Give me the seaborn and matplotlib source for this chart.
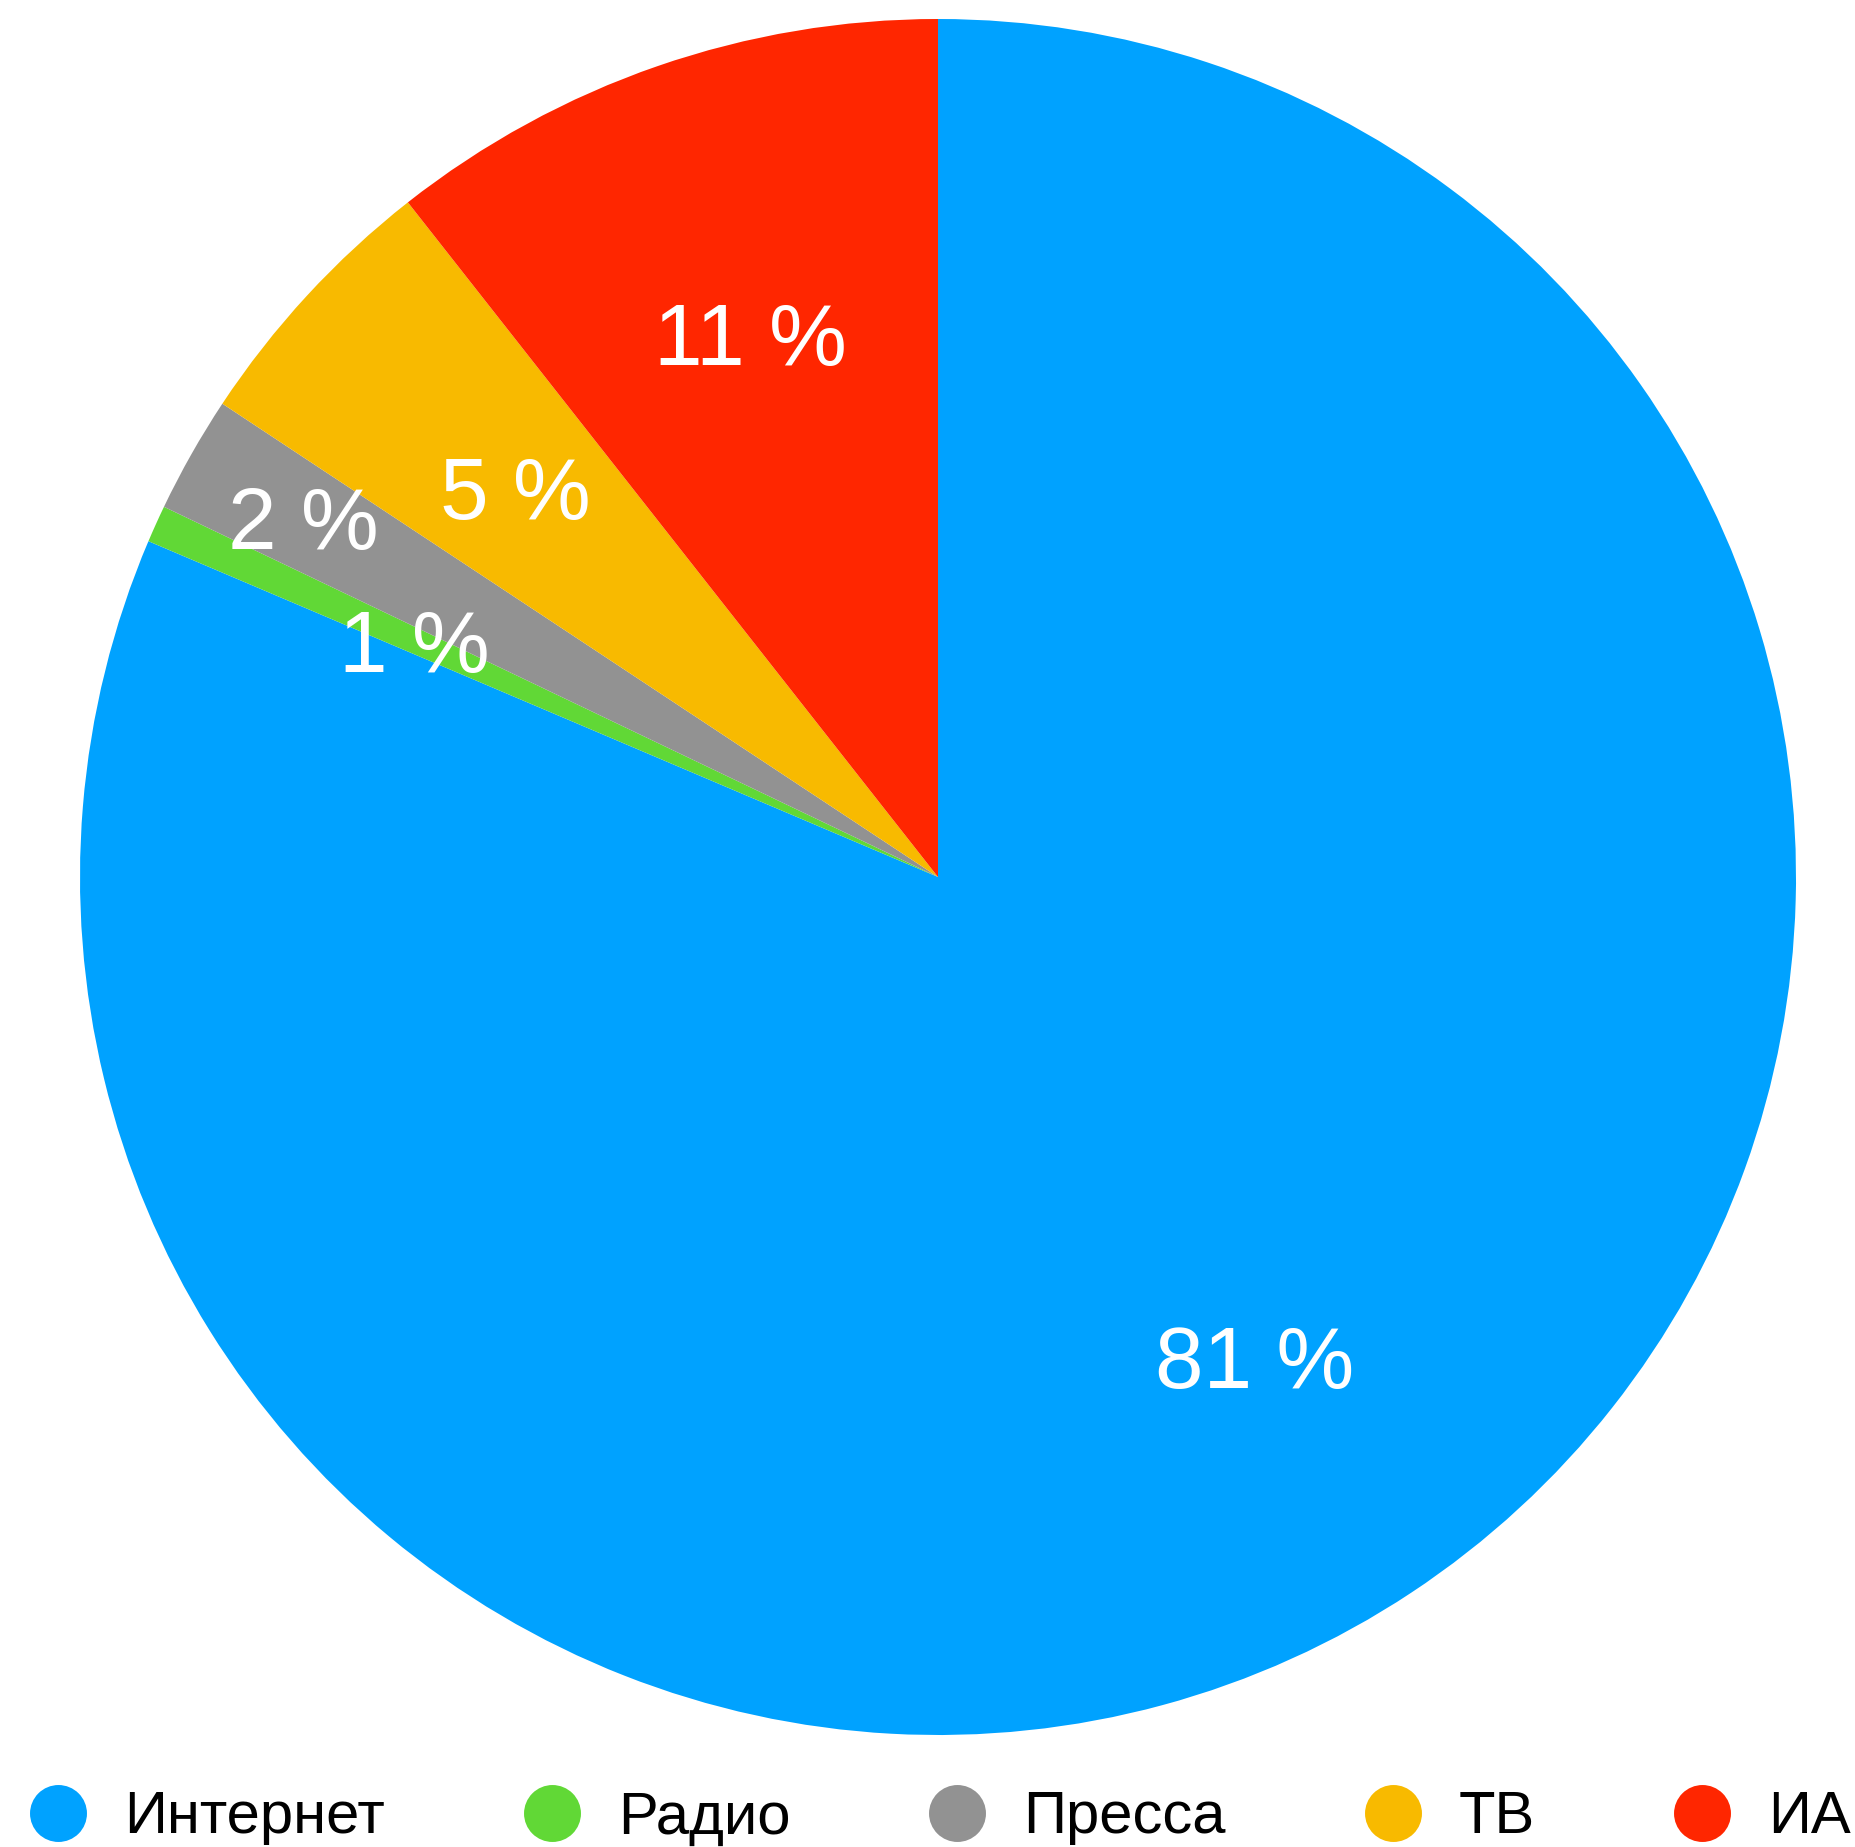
import matplotlib
matplotlib.use("Agg")
import matplotlib.pyplot as plt
import seaborn as sns
import numpy as np
from matplotlib.lines import Line2D

# shares of mentions by media type (percent)
categories = ["Интернет", "Радио", "Пресса", "ТВ", "ИА"]
shares = [81.4, 0.7, 2.2, 5.1, 10.6]
colors = ["#00A2FF", "#61D836", "#929292", "#F8BA00", "#FF2600"]

sns.set_theme(style="white")
plt.rcParams["font.family"] = ["Liberation Sans", "DejaVu Sans"]

fig = plt.figure(figsize=(18.55, 18.47), dpi=100)
ax = fig.add_axes([80 / 1855, 112 / 1847, 1716 / 1855, 1716 / 1847])

pal = sns.color_palette(colors)
wedges, texts, autotexts = ax.pie(
    shares,
    colors=pal,
    startangle=90,
    counterclock=False,
    autopct=lambda p: f"{round(p)} %",
    pctdistance=0.67,
    radius=1,
    wedgeprops=dict(linewidth=0),
    textprops=dict(color="white", fontsize=63),
)
for t in autotexts:
    t.set_va("center_baseline")

# push the small "Пресса" label further out so it doesn't collide
w = wedges[2]
mid = np.deg2rad((w.theta1 + w.theta2) / 2)
autotexts[2].set_position((0.85 * np.cos(mid), 0.85 * np.sin(mid)))

ax.set_xlim(-1, 1)
ax.set_ylim(-1, 1)
ax.set_aspect("auto")
ax.axis("off")

handles = [Line2D([], [], linestyle="none", marker="o", markersize=41,
                  markerfacecolor=c, markeredgewidth=0) for c in colors]
leg = fig.legend(handles, categories, loc="center left",
                 bbox_to_anchor=(28.5 / 1855, 29 / 1847), ncol=5, frameon=False,
                 fontsize=43, handlelength=1.0, handletextpad=0.6,
                 columnspacing=2.3, borderpad=0, borderaxespad=0)
for t in leg.get_texts():
    t.set_color("black")

fig.savefig("out.png", dpi=100, facecolor="white")
